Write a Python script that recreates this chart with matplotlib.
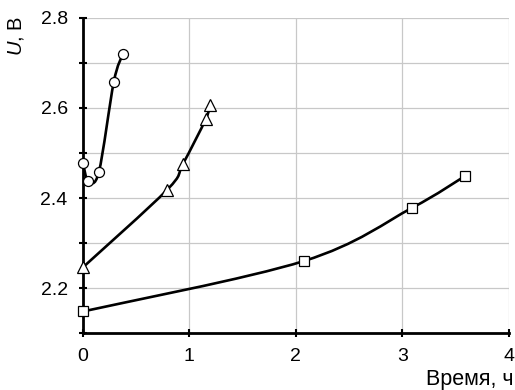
"""Voltage vs time, three series with smoothed (Excel-style) lines."""
import matplotlib
matplotlib.use("Agg")
import matplotlib.pyplot as plt
from matplotlib.path import Path
from matplotlib.patches import PathPatch
import numpy as np

circ_t = [0.0, 0.05, 0.15, 0.29, 0.375]
circ_u = [2.478, 2.438, 2.458, 2.658, 2.72]
tri_t = [0.0, 0.79, 0.94, 1.155, 1.19]
tri_u = [2.246, 2.418, 2.476, 2.576, 2.607]
sq_t = [0.0, 2.075, 3.09, 3.59]
sq_u = [2.148, 2.26, 2.378, 2.449]

plt.rcParams["font.family"] = ["Liberation Sans", "DejaVu Sans"]
plt.rcParams["mathtext.fontset"] = "custom"
plt.rcParams["mathtext.it"] = "Liberation Sans:italic"
plt.rcParams["mathtext.rm"] = "Liberation Sans"


def smooth_path(xs, ys):
    # Catmull-Rom -> cubic bezier, like Excel's smoothed line
    p = np.column_stack([xs, ys])
    n = len(p)
    verts = [p[0]]
    codes = [Path.MOVETO]
    for i in range(n - 1):
        p0 = p[i - 1] if i > 0 else p[i]
        p3 = p[i + 2] if i + 2 < n else p[i + 1]
        c1 = p[i] + (p[i + 1] - p0) / 6
        c2 = p[i + 1] - (p3 - p[i]) / 6
        verts += [c1, c2, p[i + 1]]
        codes += [Path.CURVE4] * 3
    return Path(verts, codes)


fig = plt.figure(figsize=(5.15, 3.9), dpi=100)
fig.patch.set_facecolor("white")
ax = fig.add_axes([0.161, 0.146, 0.827, 0.808])

for xs, ys, mk, ms in [(circ_t, circ_u, "o", 7.2),
                       (tri_t, tri_u, "^", 8.5),
                       (sq_t, sq_u, "s", 6.5)]:
    ax.add_patch(PathPatch(smooth_path(xs, ys), fill=False, ec="black",
                           lw=1.9, zorder=3))
    ax.plot(xs, ys, ls="none", marker=mk, ms=ms, mfc="white", mec="black",
            mew=0.9, zorder=4, clip_on=False)

ax.set_xlim(0, 4)
ax.set_ylim(2.1, 2.8)
ax.set_xticks([0, 1, 2, 3, 4])
ax.set_yticks([2.2, 2.4, 2.6, 2.8])
ax.set_yticks(np.arange(2.1, 2.81, 0.1), minor=True)
ax.grid(True, which="both", color="#c8c8c8", lw=0.9)
ax.set_axisbelow(True)
for s in ["top", "right"]:
    ax.spines[s].set_visible(False)
for s in ["left", "bottom"]:
    ax.spines[s].set_linewidth(2)
ax.tick_params(axis="both", which="both", direction="inout", length=6,
               width=1.5, labelsize=14)
ax.tick_params(axis="y", which="minor", length=6)
ax.tick_params(axis="x", pad=8)
ax.tick_params(axis="y", pad=8)

fig.text(16 / 515, 1 - 36 / 390, "$U$, В", rotation=90, fontsize=14.5,
         ha="center", va="center")
fig.text(514 / 515, 1 - 380 / 390, "Время, ч", fontsize=15.5,
         ha="right", va="center")

plt.savefig("out.png", dpi=100, facecolor="white")
